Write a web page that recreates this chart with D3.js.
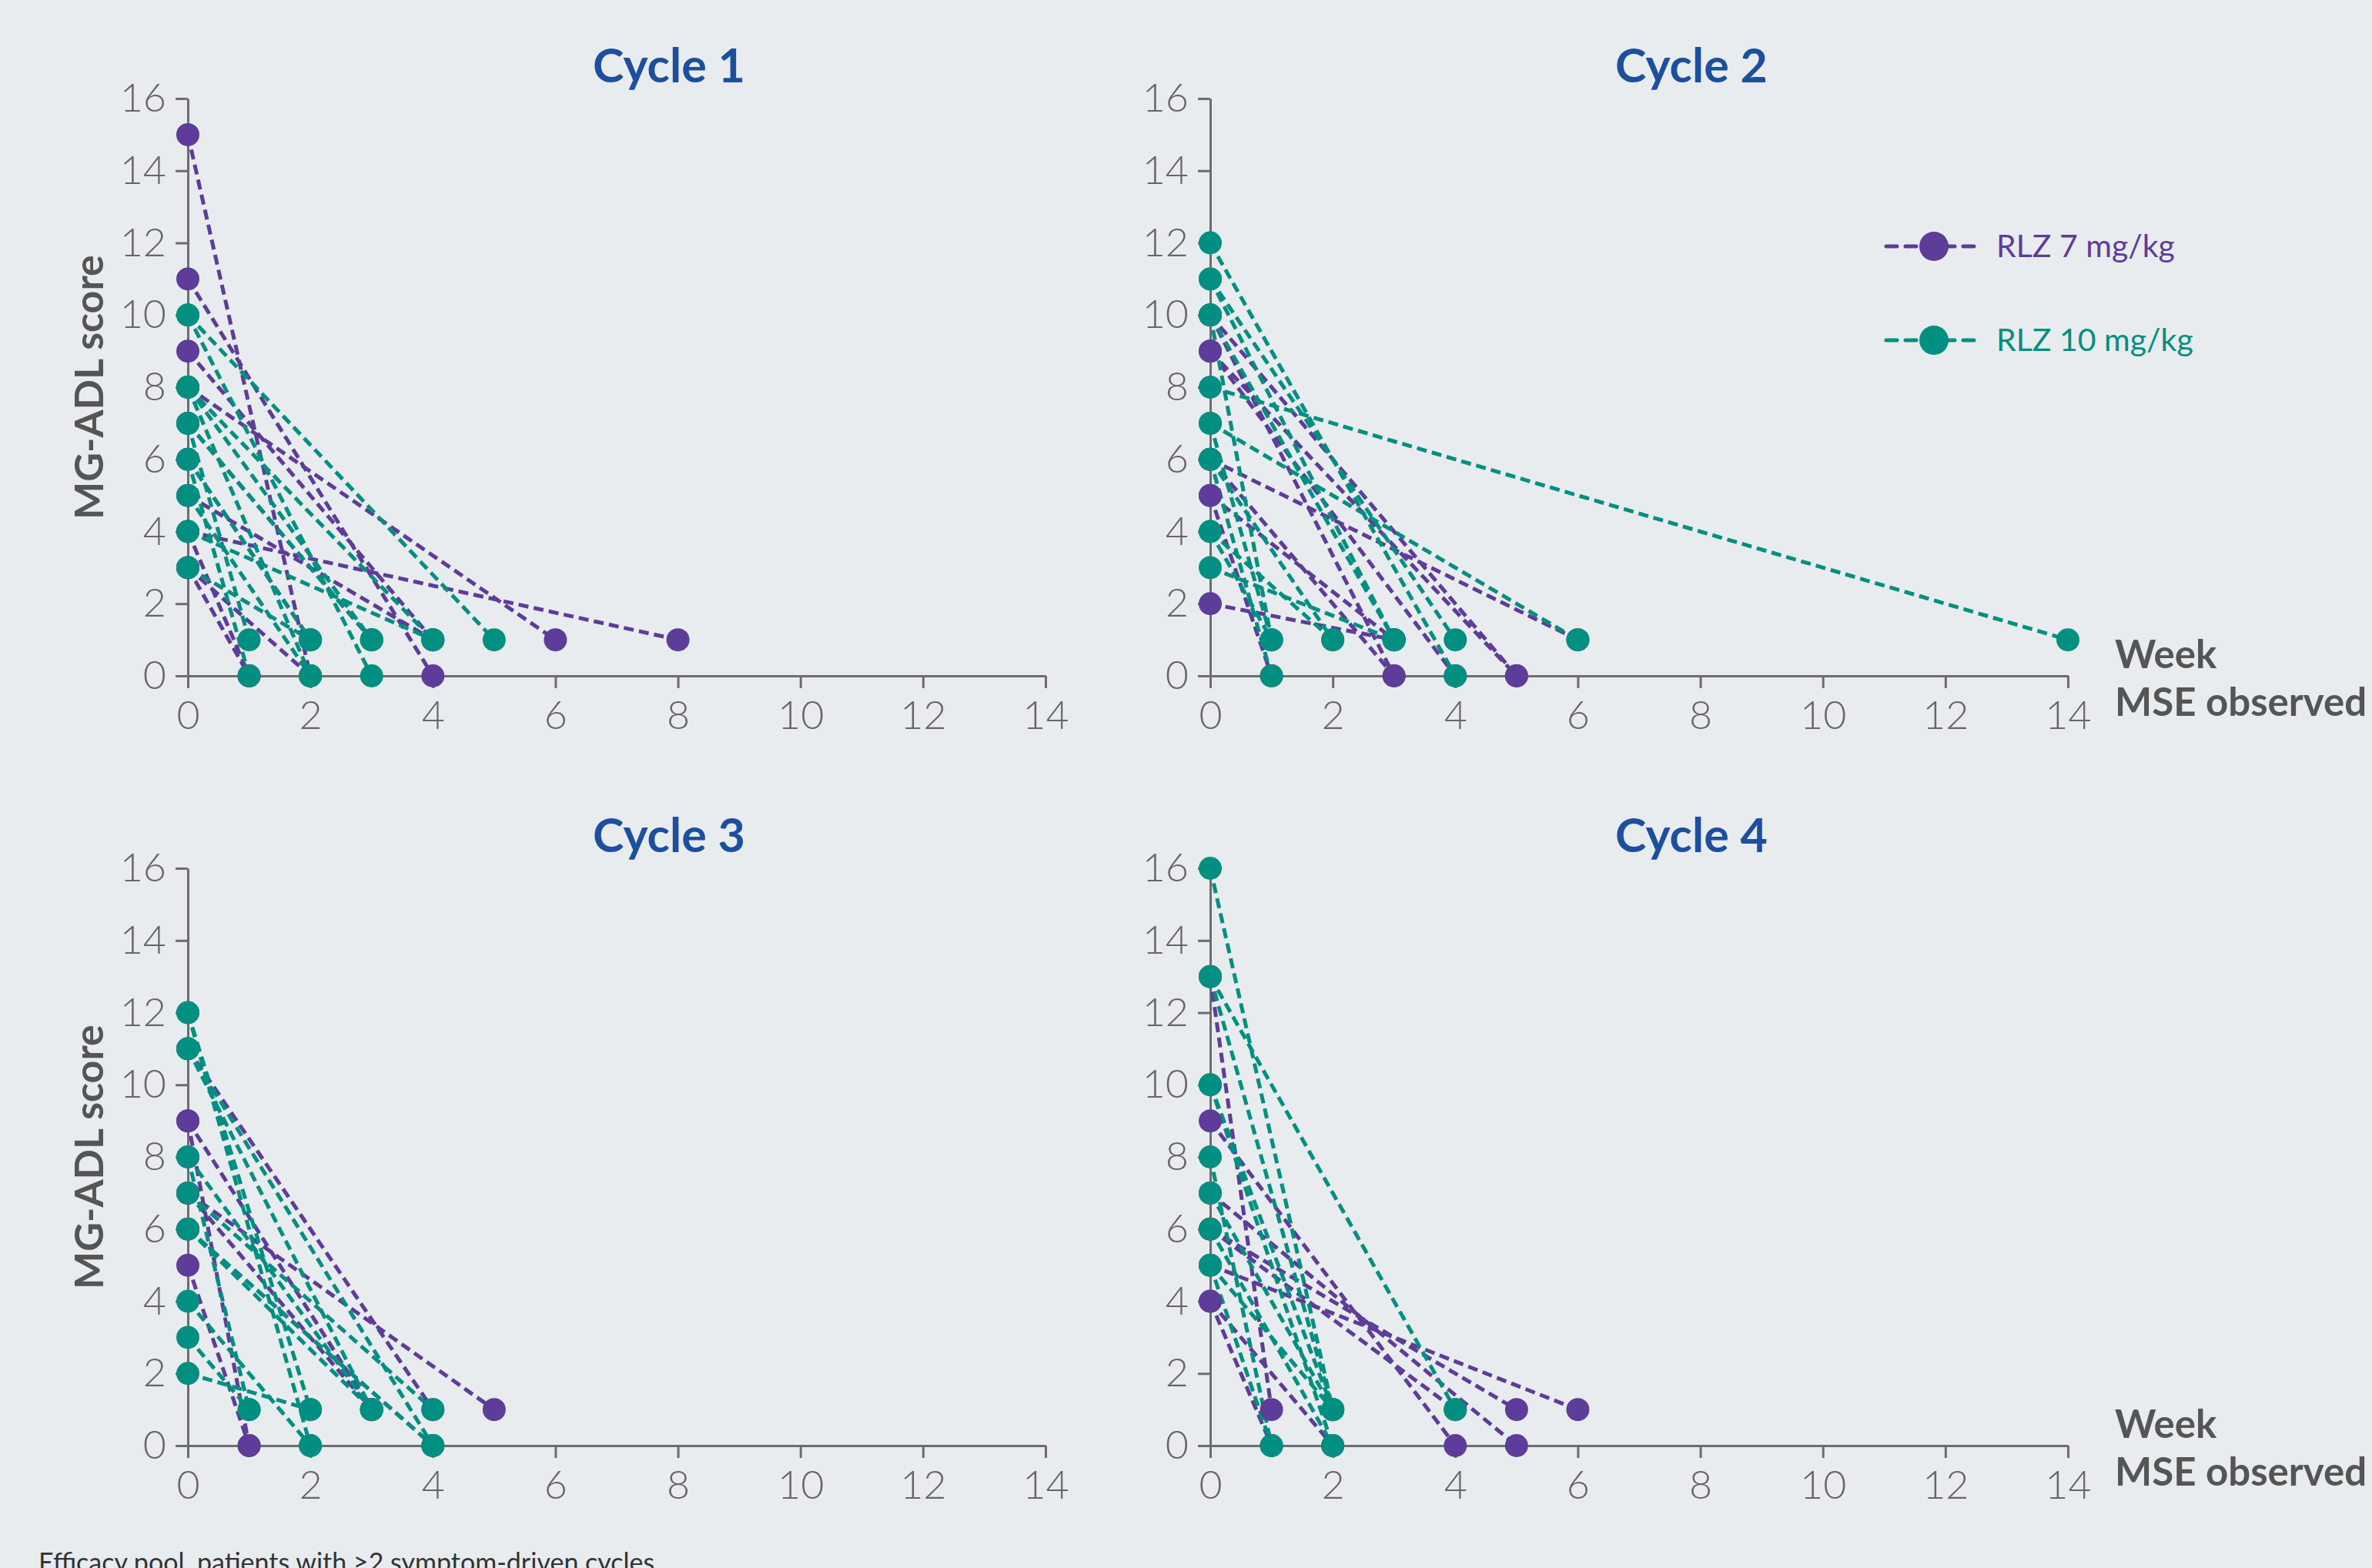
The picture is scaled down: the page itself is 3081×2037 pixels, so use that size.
<!DOCTYPE html>
<html>
<head>
<meta charset="utf-8">
<script src="https://cdn.jsdelivr.net/npm/d3@7"></script>
<style>
  html, body { margin: 0; padding: 0; background: #e8ecef; }
  svg { display: block; font-family: Lato, "Open Sans", sans-serif; }
</style>
</head>
<body>
<script>
// Chart values: each row is [MG-ADL at cycle start, week MSE observed, MG-ADL at MSE]
const cycles = ["Cycle 1", "Cycle 2", "Cycle 3", "Cycle 4"];
const doses = ["RLZ 7 mg/kg", "RLZ 10 mg/kg"];
const xTicks = [0, 2, 4, 6, 8, 10, 12, 14];
const yTicks = [0, 2, 4, 6, 8, 10, 12, 14, 16];

const c1Rlz7 = [[15, 2, 0], [11, 4, 0], [9, 4, 1], [8, 6, 1], [4, 8, 1], [5, 4, 1],
                [7, 3, 1], [6, 2, 1], [4, 1, 0], [3, 2, 0], [3, 1, 0]];
const c1Rlz10 = [[10, 5, 1], [10, 3, 0], [8, 4, 1], [8, 2, 0], [8, 3, 1], [7, 3, 1],
                 [7, 1, 1], [6, 2, 1], [6, 1, 0], [5, 2, 0], [4, 4, 1], [3, 2, 1]];

const c2Rlz7 = [[10, 5, 0], [9, 5, 0], [9, 4, 0], [10, 3, 0], [6, 6, 1], [6, 3, 0],
                [5, 1, 0], [2, 3, 1], [5, 3, 1]];
const c2Rlz10 = [[12, 4, 0], [11, 4, 1], [11, 3, 1], [10, 3, 1], [8, 14, 1], [7, 6, 1],
                 [7, 1, 1], [6, 2, 1], [6, 1, 0], [4, 2, 1], [4, 1, 1], [3, 3, 1], [10, 1, 1]];

const c3Rlz7 = [[11, 4, 1], [7, 5, 1], [9, 3, 1], [9, 1, 0], [5, 1, 0], [7, 3, 1], [6, 4, 0]];
const c3Rlz10 = [[12, 2, 1], [12, 2, 0], [11, 4, 0], [11, 3, 1], [8, 1, 1], [8, 3, 1],
                 [7, 4, 1], [6, 4, 0], [6, 3, 1], [4, 2, 0], [3, 1, 1], [2, 2, 1]];

const c4Rlz7 = [[13, 1, 1], [9, 4, 0], [7, 5, 0], [6, 5, 1], [5, 6, 1], [4, 1, 0],
                [4, 2, 0], [6, 4, 1]];
const c4Rlz10 = [[16, 2, 1], [13, 4, 1], [13, 2, 1], [10, 2, 1], [8, 1, 0], [7, 2, 1],
                 [6, 2, 0], [5, 2, 1], [5, 1, 0], [10, 2, 0]];

const footnote = "Efficacy pool, patients with \u22652 symptom-driven cycles";

// Layout
const W = 3081, H = 2037;
const plotW = 1114, plotH = 750;
const origins = [[244, 128], [1572, 128], [244, 1128], [1572, 1128]];
const colors = ["#5e3c99", "#008f80"];
const axisColor = "#6d6d6d";

const panelData = [
  [c1Rlz7, c1Rlz10], [c2Rlz7, c2Rlz10], [c3Rlz7, c3Rlz10], [c4Rlz7, c4Rlz10]
];

const svg = d3.select("body").append("svg")
    .attr("width", W)
    .attr("height", H);

svg.append("rect").attr("width", W).attr("height", H).attr("fill", "#e8ecef");

const x = d3.scaleLinear().domain([0, 14]).range([0, plotW]);
const y = d3.scaleLinear().domain([0, 16]).range([plotH, 0]);

cycles.forEach((title, i) => {
    const g = svg.append("g")
        .attr("transform", `translate(${origins[i][0]},${origins[i][1]})`);

    // axes
    const yAxis = g.append("g")
        .call(d3.axisLeft(y).tickValues(yTicks).tickSize(16).tickPadding(12).tickSizeOuter(0));
    const xAxis = g.append("g")
        .attr("transform", `translate(0,${plotH})`)
        .call(d3.axisBottom(x).tickValues(xTicks).tickSize(16).tickPadding(16).tickSizeOuter(0));
    [xAxis, yAxis].forEach(a => {
        a.select(".domain").attr("stroke", axisColor).attr("stroke-width", 3);
        a.selectAll(".tick line").attr("stroke", axisColor).attr("stroke-width", 3);
        a.selectAll(".tick text")
            .attr("fill", "#666")
            .style("font-size", "52px")
            .style("font-weight", 300)
            .style("font-family", "Lato, sans-serif");
    });

    // title
    g.append("text")
        .attr("x", plotW / 2 + 68)
        .attr("y", -21)
        .attr("text-anchor", "middle")
        .attr("fill", "#1c4f9e")
        .style("font-size", "61px")
        .style("font-weight", 700)
        .text(title);

    if (i % 2 === 0) {
        g.append("text")
            .attr("transform", `translate(-110,${plotH / 2}) rotate(-90)`)
            .attr("text-anchor", "middle")
            .attr("fill", "#555")
            .style("font-size", "52px")
            .style("font-weight", 700)
            .text("MG-ADL score");
    } else {
        g.append("text")
            .attr("x", 1175).attr("y", 740)
            .attr("fill", "#555")
            .style("font-size", "51px")
            .style("font-weight", 700)
            .text("Week");
        g.append("text")
            .attr("x", 1175).attr("y", 802)
            .attr("fill", "#555")
            .style("font-size", "51px")
            .style("font-weight", 700)
            .text("MSE observed");
    }

    const rows = [];
    panelData[i].forEach((series, d) => {
        series.forEach(r => rows.push({ dose: d, base: r[0], week: r[1], score: r[2] }));
    });

    // dashed patient lines
    g.selectAll("line.patient")
        .data(rows)
        .enter()
        .append("line")
        .attr("class", "patient")
        .attr("x1", x(0))
        .attr("y1", d => y(d.base))
        .attr("x2", d => x(d.week))
        .attr("y2", d => y(d.score))
        .attr("stroke", d => colors[d.dose])
        .attr("stroke-width", 5)
        .attr("stroke-dasharray", "13,7");

    // dots: purple first, teal on top
    [0, 1].forEach(dose => {
        const pts = [];
        rows.filter(r => r.dose === dose).forEach(r => {
            pts.push([0, r.base]);
            pts.push([r.week, r.score]);
        });
        g.selectAll(null)
            .data(pts)
            .enter()
            .append("circle")
            .attr("cx", d => x(d[0]))
            .attr("cy", d => y(d[1]))
            .attr("r", 15)
            .attr("fill", colors[dose]);
    });

    // legend in cycle 2 panel
    if (i === 1) {
        doses.forEach((name, d) => {
            const ly = 192 + d * 122;
            g.append("line")
                .attr("x1", 878).attr("x2", 1003)
                .attr("y1", ly).attr("y2", ly)
                .attr("stroke", colors[d])
                .attr("stroke-width", 5)
                .attr("stroke-linecap", "round")
                .attr("stroke-dasharray", "14,11");
            g.append("circle")
                .attr("cx", 940).attr("cy", ly).attr("r", 19)
                .attr("fill", colors[d]);
            g.append("text")
                .attr("x", 1021).attr("y", ly + 14)
                .attr("fill", colors[d])
                .style("font-size", "41px")
                .text(name);
        });
    }
});

// footnote, partly cropped at the bottom edge as in the source figure
svg.append("text")
    .attr("x", 50)
    .attr("y", 2042)
    .attr("fill", "#333")
    .style("font-size", "34px")
    .text(footnote);
</script>
</body>
</html>
